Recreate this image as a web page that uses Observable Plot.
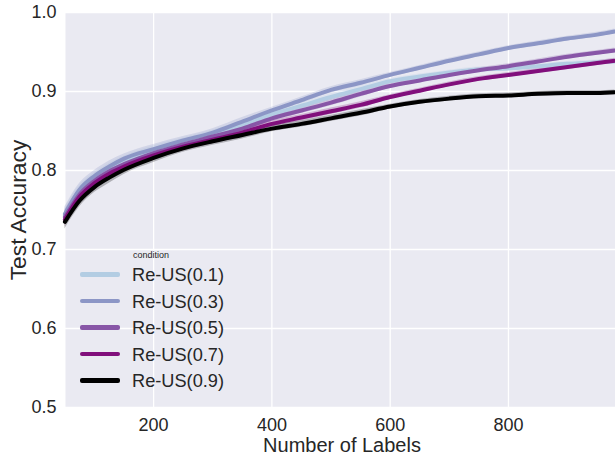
<!DOCTYPE html>
<html><head><meta charset="utf-8">
<script src="https://cdn.jsdelivr.net/npm/d3@7"></script>
<script src="https://cdn.jsdelivr.net/npm/@observablehq/plot@0.6"></script>
<style>
body{margin:0;background:#fff;font-family:"Liberation Sans",Arial,sans-serif;}
#wrap{position:relative;width:615px;height:457px;}
#legend{position:absolute;left:80px;top:246px;color:#262626;}
#legend .title{position:absolute;left:53px;top:4px;font-size:9px;white-space:nowrap;}
#legend .item{position:absolute;left:0;height:20px;width:160px;}
#legend .sw{position:absolute;left:0;top:8px;width:40px;height:4.5px;border-radius:2px;}
#legend .lab{position:absolute;left:52px;top:1px;font-size:18.2px;white-space:nowrap;}
.axtitle{position:absolute;line-height:1;white-space:nowrap;color:#262626;}
#xtitle{left:342px;top:434.8px;font-size:20px;transform:translateX(-50%);}
#ytitle{left:18.4px;top:209.5px;font-size:22.8px;transform:translate(-50%,-50%) rotate(-90deg);}
</style></head><body><div id="wrap"></div>
<script>
const xs = [50, 75, 100, 125, 150, 200, 250, 300, 350, 400, 450, 500, 550, 600, 650, 700, 750, 800, 850, 900, 950, 980];
const conditions = ["Re-US(0.1)", "Re-US(0.3)", "Re-US(0.5)", "Re-US(0.7)", "Re-US(0.9)"];
const colors = ["#b3cde3", "#8c96c6", "#8856a7", "#810f7c", "#000000"];
const acc01 = [0.743, 0.773, 0.790, 0.802, 0.812, 0.825, 0.836, 0.846, 0.858, 0.871, 0.882, 0.893, 0.903, 0.913, 0.919, 0.924, 0.928, 0.929, 0.932, 0.935, 0.937, 0.938];
const acc03 = [0.745, 0.776, 0.793, 0.805, 0.815, 0.827, 0.838, 0.848, 0.862, 0.876, 0.889, 0.902, 0.911, 0.921, 0.930, 0.939, 0.947, 0.955, 0.961, 0.967, 0.972, 0.976];
const acc05 = [0.741, 0.770, 0.787, 0.799, 0.808, 0.822, 0.833, 0.843, 0.853, 0.866, 0.876, 0.886, 0.897, 0.907, 0.914, 0.921, 0.927, 0.932, 0.938, 0.944, 0.949, 0.952];
const acc07 = [0.738, 0.767, 0.784, 0.796, 0.805, 0.819, 0.830, 0.839, 0.848, 0.859, 0.867, 0.875, 0.883, 0.893, 0.901, 0.909, 0.916, 0.921, 0.926, 0.931, 0.936, 0.939];
const acc09 = [0.735, 0.762, 0.779, 0.791, 0.801, 0.816, 0.828, 0.837, 0.845, 0.853, 0.859, 0.866, 0.873, 0.881, 0.887, 0.891, 0.894, 0.895, 0.897, 0.898, 0.898, 0.899];
const ciHalf = [0.009, 0.008, 0.007, 0.007, 0.006, 0.006, 0.005, 0.005, 0.005, 0.004, 0.004, 0.004, 0.004, 0.003, 0.003, 0.003, 0.003, 0.003, 0.003, 0.003, 0.003, 0.003];
const xTicks = [200, 400, 600, 800];
const yTicks = [0.5, 0.6, 0.7, 0.8, 0.9, 1.0];
const xTitle = "Number of Labels";
const yTitle = "Test Accuracy";
const legendTitle = "condition";

const series = [acc01, acc03, acc05, acc07, acc09];
const rows = [];
series.forEach((s, k) => s.forEach((v, i) => rows.push({cond: conditions[k], x: xs[i], y: v, lo: v - ciHalf[i], hi: v + ciHalf[i]})));

const chart = Plot.plot({
  width: 615, height: 457,
  marginLeft: 65, marginRight: 0, marginTop: 12, marginBottom: 50,
  style: {fontFamily: '"Liberation Sans", Arial, sans-serif', color: "#262626", background: "transparent"},
  x: {domain: [51, 981]},
  y: {domain: [0.5, 1.0]},
  color: {domain: conditions, range: colors},
  marks: [
    Plot.frame({fill: "#EAEAF2", stroke: null}),
    Plot.gridX(xTicks, {stroke: "white", strokeOpacity: 1, strokeWidth: 1.3}),
    Plot.gridY(yTicks, {stroke: "white", strokeOpacity: 1, strokeWidth: 1.3}),
    Plot.areaY(rows, {x: "x", y1: "lo", y2: "hi", z: "cond", fill: "cond", fillOpacity: 0.25, curve: "monotone-x"}),
    Plot.lineY(rows, {x: "x", y: "y", z: "cond", stroke: "cond", strokeWidth: 4, curve: "monotone-x"}),
    Plot.axisX({ticks: xTicks, tickSize: 0, tickPadding: 11, fontSize: 18, label: null}),
    Plot.axisY({ticks: yTicks, tickSize: 0, tickPadding: 9, fontSize: 18, label: null, tickFormat: d3.format(".1f")})
  ]
});
const wrap = document.getElementById("wrap");
wrap.appendChild(chart);
const xt = document.createElement("div"); xt.id = "xtitle"; xt.className = "axtitle"; xt.textContent = xTitle; wrap.appendChild(xt);
const yt = document.createElement("div"); yt.id = "ytitle"; yt.className = "axtitle"; yt.textContent = yTitle; wrap.appendChild(yt);
const leg = document.createElement("div");
leg.id = "legend";
leg.innerHTML = `<div class="title">${legendTitle}</div>` + conditions.map((c, i) =>
  `<div class="item" style="top:${18 + i * 26.5}px"><div class="sw" style="background:${colors[i]}"></div><div class="lab">${c}</div></div>`).join("");
wrap.appendChild(leg);
</script></body></html>
